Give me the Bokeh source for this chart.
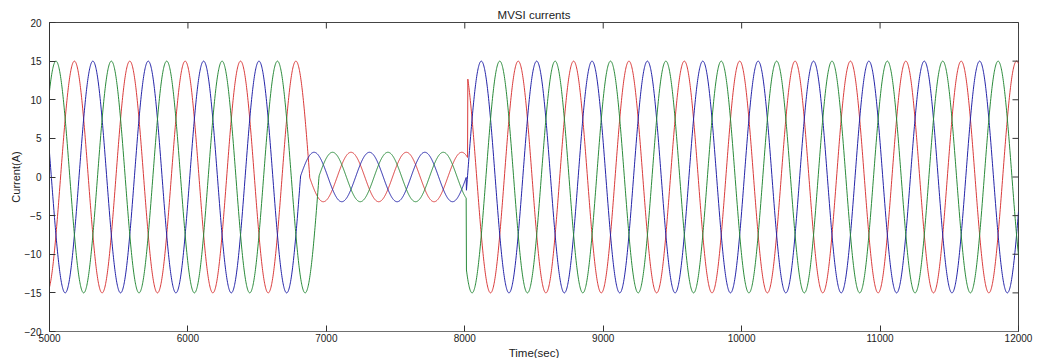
import numpy as np
from bokeh.plotting import figure
from bokeh.models import Range1d, FixedTicker, Title
from bokeh.embed import file_html
from bokeh.resources import INLINE

# ---- data ----
TIME_START = 5000
TIME_END = 12000
TIME_STEP = 2
PERIOD = 400                     # one cycle spans ~400 time units
PHASE_NAMES = ["red", "blue", "green"]
PHASE_COLORS = ["#d93b3b", "#2424a8", "#2a8a3a"]
PHASE_LAG = [0.0, 133.3, 266.7]  # time lag of each phase's peak
HIGH_AMP = [15.0, 15.0, 15.0]    # amplitude before / after the low-current interval
LOW_AMP = [3.2, 3.2, 3.2]        # amplitude during the low-current interval
SEG1_PEAK = 5180                 # red peak time, first interval
SEG2_PEAK = 7178                 # red peak time, low-current interval
SEG3_PEAK = 7986                 # red peak time, last interval
SWITCH_DOWN = [6880, 6813, 6947] # each phase drops to low current at its zero crossing
SWITCH_UP = [8022, 8012, 8012]   # back to full current
X_TICKS = [5000, 6000, 7000, 8000, 9000, 10000, 11000, 12000]
Y_TICKS = [-20, -15, -10, -5, 0, 5, 10, 15, 20]

t = np.arange(TIME_START, TIME_END + TIME_STEP, TIME_STEP, dtype=float)


def phase_current(i):
    w = 2 * np.pi / PERIOD
    lag = PHASE_LAG[i]
    s1 = HIGH_AMP[i] * np.cos(w * (t - SEG1_PEAK - lag))
    s2 = LOW_AMP[i] * np.cos(w * (t - SEG2_PEAK - lag))
    s3 = HIGH_AMP[i] * np.cos(w * (t - SEG3_PEAK - lag))
    return np.where(t < SWITCH_DOWN[i], s1, np.where(t < SWITCH_UP[i], s2, s3))


FONT = "Liberation Sans"
TEXT_COLOR = "#222222"

p = figure(width=1039, height=358,
           x_range=Range1d(TIME_START, TIME_END), y_range=Range1d(-20, 20),
           output_backend="svg", toolbar_location=None,
           min_border_left=49, min_border_right=21,
           min_border_top=22, min_border_bottom=27)

for i, name in enumerate(PHASE_NAMES):
    p.line(t, phase_current(i), line_color=PHASE_COLORS[i], line_width=1)

# inward ticks on the top and right edges of the box (half of each dash is clipped)
p.scatter(X_TICKS, [Y_TICKS[-1]] * len(X_TICKS), marker="dash", angle=np.pi / 2,
          size=12, line_color="#333333", line_width=1)
p.scatter([X_TICKS[-1]] * len(Y_TICKS), Y_TICKS, marker="dash",
          size=12, line_color="#333333", line_width=1)

p.xgrid.visible = False
p.ygrid.visible = False
p.outline_line_color = "#444444"
p.background_fill_color = "white"
p.border_fill_color = "white"

for ax, tk in ((p.xaxis[0], X_TICKS), (p.yaxis[0], Y_TICKS)):
    ax.ticker = FixedTicker(ticks=tk)
    ax.major_tick_in = 6
    ax.major_tick_out = 0
    ax.minor_tick_in = 0
    ax.minor_tick_out = 0
    ax.major_label_text_font = FONT
    ax.major_label_text_font_size = "10px"
    ax.major_label_text_color = TEXT_COLOR
    ax.axis_line_color = "#333333"
    ax.major_tick_line_color = "#333333"

p.xaxis[0].major_label_standoff = 2
p.xaxis[0].axis_line_color = "#707070"
p.yaxis[0].major_label_standoff = 8
p.yaxis[0].axis_label = "Current(A)"
p.yaxis[0].axis_label_text_font = FONT
p.yaxis[0].axis_label_text_font_size = "11px"
p.yaxis[0].axis_label_text_font_style = "normal"
p.yaxis[0].axis_label_text_color = TEXT_COLOR
p.yaxis[0].axis_label_standoff = 0

p.title.text = "MVSI currents"
p.title.align = "center"
p.title.standoff = 3
p.title.text_font = FONT
p.title.text_font_size = "11.5px"
p.title.text_font_style = "normal"
p.title.text_color = TEXT_COLOR

p.add_layout(Title(text="Time(sec)", align="center", standoff=0,
                   text_font=FONT, text_font_size="11.5px",
                   text_font_style="normal", text_color=TEXT_COLOR), "below")

open("out.html", "w").write(file_html(p, INLINE))
